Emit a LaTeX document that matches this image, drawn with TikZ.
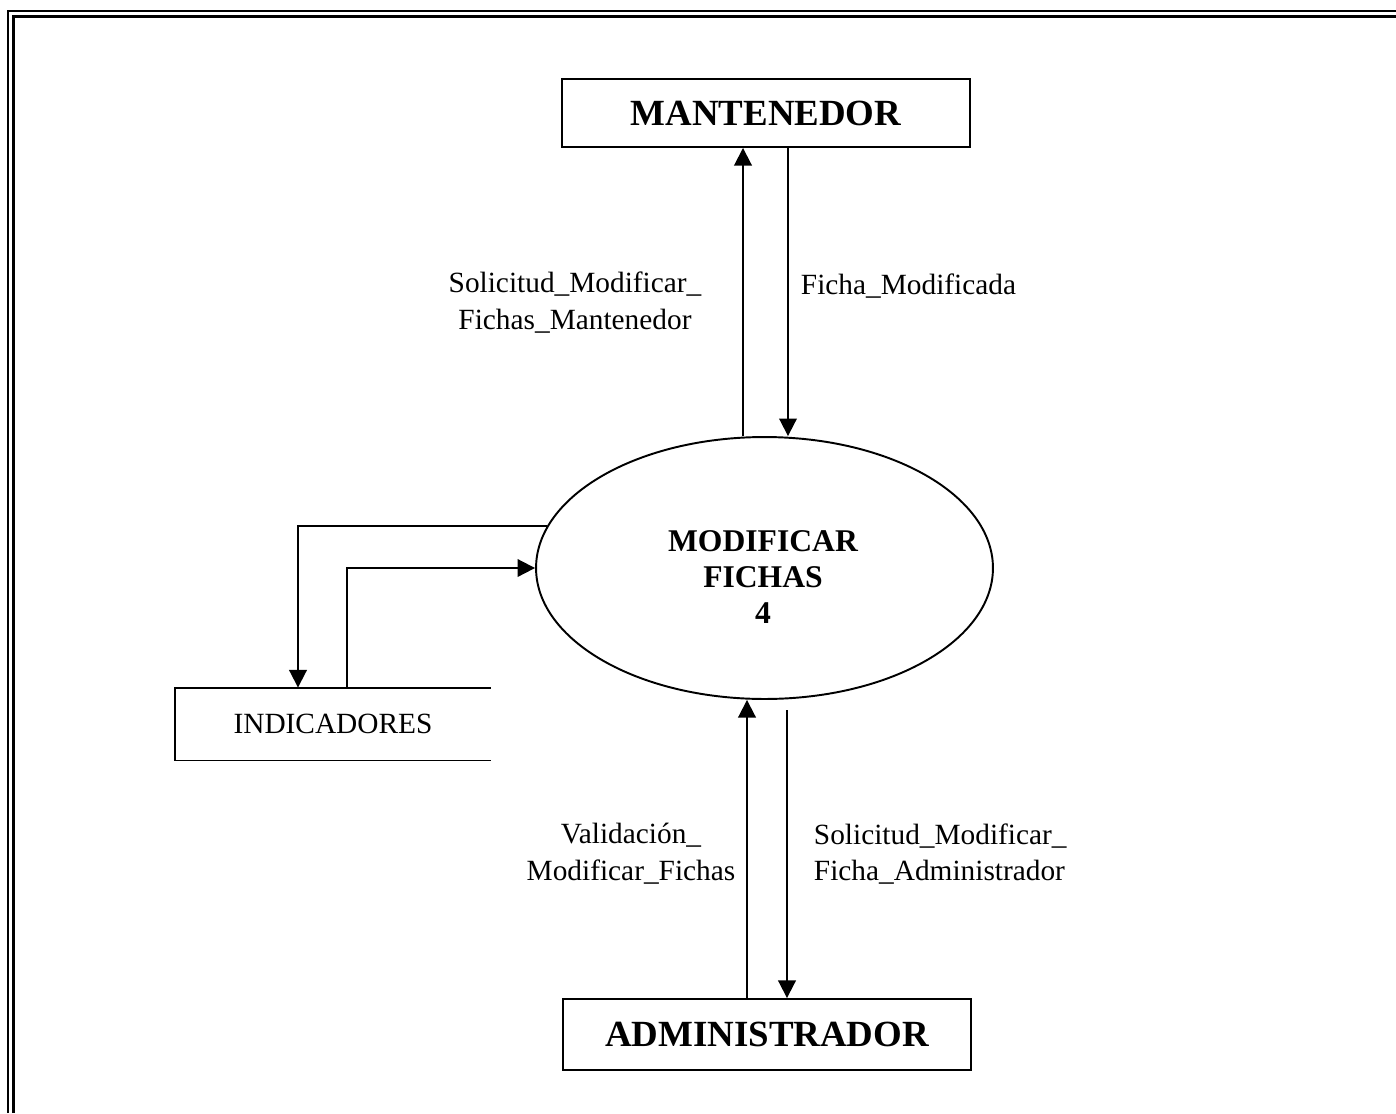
\documentclass[tikz,border=0pt]{standalone}
\usepackage{fontspec}
\setmainfont{Liberation Serif}
\usetikzlibrary{arrows.meta,shapes.geometric}

\begin{document}
\begin{tikzpicture}[x=0.02cm,y=-0.02cm,line width=1.1pt,
	entity/.style={draw,minimum width=8.16cm,inner sep=0pt,font=\fontsize{21}{25}\selectfont\bfseries},
	process/.style={draw,ellipse,minimum width=9.14cm,minimum height=5.24cm,inner sep=0pt},
	store/.style={minimum width=6.28cm,minimum height=1.42cm,inner sep=0pt,font=\fontsize{16.7}{21}\selectfont},
	flow/.style={-{Triangle[length=10pt,width=10pt]}},
	lbl/.style={inner sep=0pt,font=\fontsize{16.7}{21}\selectfont}]
	\useasboundingbox (0,0) rectangle (1396,1113);
	% page frame
		\draw[line width=1.1pt] (7.6,1113) -- (7.6,11) -- (1396,11);
		\draw[line width=1.9pt] (13.6,1113) -- (13.6,16.7) -- (1396,16.7);
	% external entities
		\node[entity,minimum height=1.36cm] (mant) at (766,113) {MANTENEDOR};
		\node[entity,minimum height=1.42cm] (admin) at (767,1034.5) {ADMINISTRADOR};
	% process
		\node[process] (proc) at (764.5,568) {};
		\node[font=\fontsize{18}{20.5}\selectfont\bfseries,align=center] (proctxt) at (763,577) {MODIFICAR\\FICHAS\\4};
	% data store
		\node[store] (ind) at (333,724) {INDICADORES};
		\draw (ind.north east) -- (ind.north west) -- (ind.south west) -- (ind.south east);
	% flows with MANTENEDOR
		\coordinate (xa) at (743,0);
		\coordinate (xb) at (788,0);
		\draw[flow] (proc.north -| xa) -- (mant.south -| xa);
		\draw[flow] (mant.south -| xb) -- (proc.north -| xb);
	% flows with ADMINISTRADOR
		\coordinate (xc) at (747,0);
		\coordinate (xd) at (787,710);
		\draw[flow] (admin.north -| xc) -- (proc.south -| xc);
		\draw[flow] (xd) -- (admin.north -| xd);
	% flows with INDICADORES
		\coordinate (xe) at (298,0);
		\coordinate (xf) at (347,0);
		\draw[flow] (proc.169) -| (ind.north -| xe);
		\draw[flow] (ind.north -| xf) |- (proc.west);
	% labels
		\node[lbl,align=center] (l1) at (575,303) {Solicitud\_Modificar\_\\Fichas\_Mantenedor};
		\node[lbl,anchor=west] (l2) at (800,286) {Ficha\_Modificada};
		\node[lbl,align=center] (l3) at (631,854) {Validación\_\\Modificar\_Fichas};
		\node[lbl,align=left,anchor=west] (l4) at (813,854) {Solicitud\_Modificar\_\\Ficha\_Administrador};
\end{tikzpicture}
\end{document}
